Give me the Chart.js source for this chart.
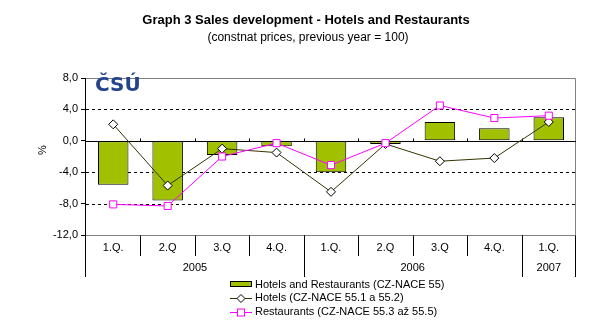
<!DOCTYPE html>
<html>
<head>
<meta charset="utf-8">
<script src="https://cdn.jsdelivr.net/npm/chart.js@4.4.0/dist/chart.umd.min.js"></script>
<style>
  html, body { margin: 0; padding: 0; background: #fff; }
  #wrap { width: 604px; height: 325px; }
</style>
</head>
<body>
<div id="wrap"><canvas id="mycanvas" width="604" height="325"></canvas></div>
<script>
// quarters and years on the category axis
var quarters = ['1.Q.', '2.Q', '3.Q', '4.Q.', '1.Q.', '2.Q', '3.Q', '4.Q.', '1.Q.'];
var years = ['2005', '2006', '2007'];
var yearSpans = [4, 4, 1];

// series values (index, previous year = 100, as % change)
var hotelsRestaurants = [-5.6, -7.6, -1.8, -0.7, -4.0, -0.4, 2.4, 1.6, 3.0];
var hotels = [2.1, -5.7, -1.0, -1.5, -6.5, -0.4, -2.6, -2.2, 2.4];
var restaurants = [-8.1, -8.3, -2.0, -0.3, -3.1, -0.3, 4.5, 2.9, 3.2];

var yTicks = [8, 4, 0, -4, -8, -12];

var FONT = '"Liberation Sans", Arial, sans-serif';
var barColor = '#A0C000';
var hotelsColor = '#333300';
var restColor = '#FF00FF';

Chart.defaults.font.family = FONT;
Chart.defaults.color = '#000';

var decor = {
	id: 'decor',
	beforeDatasetsDraw: function(chart) {
		var ctx = chart.ctx;
		var a = chart.chartArea;
		var x = chart.scales.x, y = chart.scales.y;
		ctx.save();
		// dashed grid lines
		ctx.strokeStyle = '#000';
		ctx.lineWidth = 1;
		ctx.setLineDash([3, 3]);
		[4, -4, -8].forEach(function(v) {
			var py = Math.round(y.getPixelForValue(v)) + 0.5;
			ctx.beginPath();
			ctx.moveTo(a.left, py);
			ctx.lineTo(a.right, py);
			ctx.stroke();
		});
		ctx.setLineDash([]);
		// grey plot frame
		var top = Math.round(y.getPixelForValue(8)) + 0.5;
		var bot = Math.round(y.getPixelForValue(-12)) + 0.5;
		var right = Math.round(a.right) - 0.5;
		ctx.strokeStyle = '#808080';
		ctx.beginPath();
		ctx.moveTo(a.left, top);
		ctx.lineTo(right, top);
		ctx.lineTo(right, bot);
		ctx.lineTo(a.left, bot);
		ctx.stroke();
		// zero line with small ticks
		var zero = Math.round(y.getPixelForValue(0)) + 0.5;
		ctx.strokeStyle = '#000';
		ctx.beginPath();
		ctx.moveTo(a.left, zero);
		ctx.lineTo(a.right, zero);
		var step = (a.right - a.left) / quarters.length;
		for (var i = 1; i < quarters.length; i++) {
			var bx = Math.round(a.left + step * i) + 0.5;
			ctx.moveTo(bx, zero);
			ctx.lineTo(bx, zero - 3);
		}
		ctx.stroke();
		// left axis
		var lx = Math.round(a.left) - 0.5;
		ctx.beginPath();
		ctx.moveTo(lx, top);
		ctx.lineTo(lx, 277);
		ctx.stroke();
		// separators below plot
		ctx.beginPath();
		for (var j = 1; j < quarters.length; j++) {
			var sx = Math.round(a.left + step * j) + 0.5;
			ctx.moveTo(sx, bot);
			ctx.lineTo(sx, 256);
		}
		var idx = 0;
		for (var k = 0; k < yearSpans.length; k++) {
			idx += yearSpans[k];
			var yx = Math.round(a.left + step * idx) - (idx === quarters.length ? 0.5 : -0.5);
			ctx.moveTo(yx, bot);
			ctx.lineTo(yx, 277);
		}
		ctx.stroke();
		// year labels
		ctx.fillStyle = '#000';
		ctx.font = '11px ' + FONT;
		ctx.textAlign = 'center';
		ctx.textBaseline = 'middle';
		var start = 0;
		for (var m = 0; m < years.length; m++) {
			var cx = a.left + step * (start + yearSpans[m] / 2);
			ctx.fillText(years[m], cx, 268);
			start += yearSpans[m];
		}
		ctx.restore();
	},
	afterDraw: function(chart) {
		var ctx = chart.ctx;
		ctx.save();
		ctx.fillStyle = '#000';
		ctx.textAlign = 'center';
		ctx.textBaseline = 'middle';
		ctx.font = 'bold 13px ' + FONT;
		ctx.fillText('Graph 3 Sales development - Hotels and Restaurants', 306, 20);
		ctx.font = '12px ' + FONT;
		ctx.fillText('(constnat prices, previous year = 100)', 308, 38);

		// logo
		ctx.font = 'bold 20px "DejaVu Sans", ' + FONT;
		ctx.fillStyle = '#23448C';
		ctx.textAlign = 'left';
		ctx.fillText('ČSÚ', 95, 86);

		// y axis title
		ctx.fillStyle = '#000';
		ctx.font = '11px ' + FONT;
		ctx.translate(43, 150);
		ctx.rotate(-Math.PI / 2);
		ctx.textAlign = 'center';
		ctx.fillText('%', 0, 0);
		ctx.setTransform(1, 0, 0, 1, 0, 0);

		// legend
		var lx = 230, tx = 255;
		var rows = [284.5, 298, 312];
		ctx.fillStyle = barColor;
		ctx.fillRect(lx, 281, 22, 6);
		ctx.strokeStyle = '#000';
		ctx.lineWidth = 1;
		ctx.strokeRect(lx + 0.5, 281.5, 21, 5);

		ctx.strokeStyle = hotelsColor;
		ctx.beginPath();
		ctx.moveTo(lx, rows[1] + 0.5);
		ctx.lineTo(lx + 22, rows[1] + 0.5);
		ctx.stroke();
		ctx.fillStyle = '#fff';
		ctx.strokeStyle = '#000';
		ctx.beginPath();
		ctx.moveTo(241, rows[1] - 3.5);
		ctx.lineTo(245, rows[1] + 0.5);
		ctx.lineTo(241, rows[1] + 4.5);
		ctx.lineTo(237, rows[1] + 0.5);
		ctx.closePath();
		ctx.fill();
		ctx.stroke();

		ctx.strokeStyle = restColor;
		ctx.beginPath();
		ctx.moveTo(lx, rows[2] + 0.5);
		ctx.lineTo(lx + 22, rows[2] + 0.5);
		ctx.stroke();
		ctx.fillRect(237.5, rows[2] - 3, 7, 7);
		ctx.strokeRect(237.5, rows[2] - 3, 7, 7);

		ctx.fillStyle = '#000';
		ctx.font = '11px ' + FONT;
		ctx.textAlign = 'left';
		ctx.fillText('Hotels and Restaurants (CZ-NACE 55)', tx, rows[0]);
		ctx.fillText('Hotels (CZ-NACE 55.1 a 55.2)', tx, rows[1]);
		ctx.fillText('Restaurants (CZ-NACE 55.3 až 55.5)', tx, rows[2]);
		ctx.restore();
	}
};

var ctx = document.getElementById('mycanvas').getContext('2d');

var chartdata = {
	labels: quarters,
	datasets: [
		{
			type: 'line',
			label: 'Restaurants (CZ-NACE 55.3 až 55.5)',
			data: restaurants,
			borderColor: restColor,
			borderWidth: 1,
			pointStyle: 'rect',
			pointRadius: 5,
			pointBorderWidth: 1,
			pointBackgroundColor: '#fff',
			pointBorderColor: restColor,
			tension: 0,
			order: 1
		},
		{
			type: 'line',
			label: 'Hotels (CZ-NACE 55.1 a 55.2)',
			data: hotels,
			borderColor: hotelsColor,
			borderWidth: 1,
			pointStyle: 'rectRot',
			pointRadius: 4.5,
			pointBorderWidth: 1,
			pointBackgroundColor: '#fff',
			pointBorderColor: '#000',
			tension: 0,
			order: 2
		},
		{
			type: 'bar',
			label: 'Hotels and Restaurants (CZ-NACE 55)',
			data: hotelsRestaurants,
			backgroundColor: barColor,
			borderColor: '#000',
			borderWidth: 1,
			borderSkipped: false,
			barPercentage: 0.56,
			categoryPercentage: 1,
			order: 3
		}
	]
};

var chart = new Chart(ctx, {
	type: 'bar',
	data: chartdata,
	options: {
		responsive: false,
		animation: false,
		devicePixelRatio: 1,
		layout: { padding: { left: 0, right: 28, top: 78, bottom: 0 } },
		plugins: {
			legend: { display: false },
			title: { display: false },
			tooltip: { enabled: false }
		},
		scales: {
			x: {
				grid: { display: false, drawTicks: false },
				border: { display: false },
				ticks: { padding: 6, font: { size: 11 }, maxRotation: 0, autoSkip: false },
				afterFit: function(s) { s.height = 90; }
			},
			y: {
				min: -12,
				max: 8,
				afterBuildTicks: function(s) {
					s.ticks = yTicks.map(function(v) { return { value: v }; });
				},
				grid: { drawOnChartArea: false, drawTicks: true, tickLength: 5, color: '#000' },
				border: { display: false },
				ticks: {
					padding: 3,
					font: { size: 11 },
					callback: function(v) { return v.toFixed(1).replace('.', ','); }
				},
				afterFit: function(s) { s.width = 86; }
			}
		}
	},
	plugins: [decor]
});
</script>
</body>
</html>
